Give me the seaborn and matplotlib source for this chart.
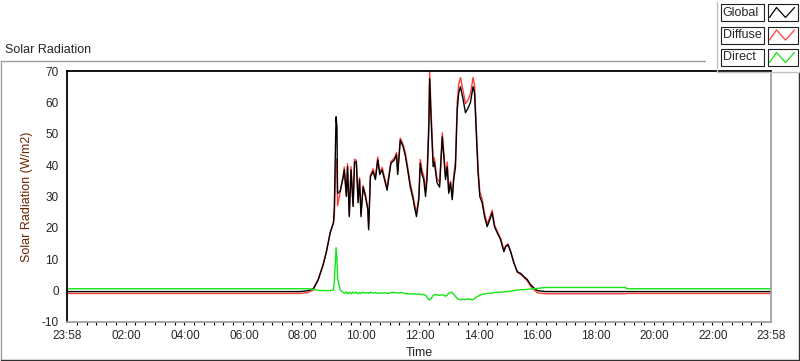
import numpy as np
import pandas as pd
import matplotlib
matplotlib.use("Agg")
import matplotlib.pyplot as plt
from matplotlib.lines import Line2D
from matplotlib.patches import Rectangle
from matplotlib.ticker import FixedLocator
import seaborn as sns

# ---------------------------------------------------------------
# data (hours after midnight, window runs 23:58 -> 23:58)
# ---------------------------------------------------------------
hours = [
    -0.03, 7.58, 7.92, 8.19, 8.36, 8.53, 8.70, 8.81, 8.94, 9.05,
    9.08, 9.11, 9.14, 9.17, 9.19, 9.28, 9.38, 9.42, 9.49, 9.53,
    9.59, 9.65, 9.72, 9.77, 9.83, 9.89, 9.94, 9.99, 10.06, 10.14,
    10.22, 10.25, 10.31, 10.40, 10.48, 10.56, 10.63, 10.71, 10.79, 10.88,
    10.93, 11.01, 11.13, 11.20, 11.24, 11.33, 11.42, 11.50, 11.58, 11.67,
    11.77, 11.81, 11.88, 11.96, 12.01, 12.07, 12.13, 12.19, 12.24, 12.30,
    12.33, 12.38, 12.45, 12.49, 12.58, 12.67, 12.76, 12.81, 12.87, 12.93,
    12.98, 13.04, 13.10, 13.15, 13.21, 13.27, 13.32, 13.38, 13.47, 13.55,
    13.63, 13.72, 13.81, 13.86, 13.93, 13.98, 14.04, 14.12, 14.20, 14.29,
    14.38, 14.46, 14.54, 14.63, 14.75, 14.86, 14.92, 15.00, 15.09, 15.20,
    15.32, 15.43, 15.54, 15.66, 15.77, 15.88, 16.00, 16.28, 19.01, 19.05,
    23.97,
]

global_rad = [
    -0.3, -0.3, -0.3, 0.0, 0.6, 3.5, 8.3, 12.4, 18.5, 21.7,
    26.4, 42.0, 55.4, 52.0, 31.0, 31.7, 36.0, 38.5, 30.0, 39.5,
    23.6, 38.5, 26.8, 41.0, 41.0, 28.0, 35.4, 23.6, 33.0, 30.0,
    25.8, 19.4, 36.3, 38.0, 35.4, 41.7, 37.0, 38.5, 35.4, 32.0,
    35.4, 40.6, 41.7, 43.3, 37.0, 48.0, 46.0, 43.0, 38.5, 33.0,
    29.0, 26.8, 23.6, 29.0, 40.6, 37.0, 35.4, 30.0, 35.4, 51.0,
    67.5, 54.5, 39.5, 41.0, 34.4, 33.0, 49.0, 43.0, 35.4, 39.5,
    31.0, 34.4, 29.0, 35.4, 39.5, 57.6, 63.0, 65.0, 61.0, 56.7,
    58.0, 60.0, 65.0, 63.0, 48.0, 37.6, 30.0, 28.0, 23.6, 20.4,
    22.6, 24.8, 20.4, 18.5, 16.2, 12.4, 14.0, 14.6, 12.4, 8.9,
    6.0, 5.5, 4.5, 3.5, 1.9, 0.9, 0.0, -0.3, -0.3, -0.3,
    -0.3,
]

diffuse_rad = [
    -0.9, -0.9, -0.9, -0.6, 0.2, 3.4, 8.3, 12.4, 18.5, 21.5,
    23.4, 34.0, 41.7, 42.0, 27.0, 31.5, 36.6, 39.4, 30.4, 40.5,
    24.1, 39.5, 27.2, 41.9, 41.5, 29.0, 36.0, 24.5, 33.5, 30.8,
    26.4, 20.3, 36.8, 38.8, 36.0, 42.6, 37.7, 39.3, 36.1, 32.8,
    36.3, 41.2, 42.3, 44.0, 37.8, 48.6, 46.7, 44.0, 39.5, 34.1,
    30.0, 27.8, 24.8, 30.0, 41.8, 38.3, 36.6, 31.5, 37.4, 53.9,
    70.0, 57.0, 41.0, 42.3, 35.7, 34.5, 50.3, 44.5, 37.2, 41.0,
    31.8, 34.9, 29.6, 36.6, 41.3, 60.1, 65.8, 67.9, 63.7, 59.6,
    60.6, 62.8, 67.9, 65.5, 50.0, 39.4, 31.5, 29.2, 24.6, 21.3,
    23.4, 25.6, 21.0, 19.0, 16.7, 12.8, 14.3, 14.9, 12.6, 8.9,
    5.8, 5.2, 4.2, 3.1, 1.4, 0.3, -0.7, -1.0, -1.0, -0.9,
    -0.9,
]

direct_rad = [
    0.6, 0.6, 0.6, 0.6, 0.4, 0.1, 0.0, 0.0, 0.0, 0.2,
    3.0, 8.0, 13.7, 10.0, 4.0, 0.2, -0.6, -0.9, -0.4, -1.0,
    -0.5, -1.0, -0.4, -0.9, -0.5, -1.0, -0.6, -0.9, -0.5, -0.8,
    -0.6, -0.9, -0.5, -0.8, -0.6, -0.9, -0.7, -0.8, -0.7, -0.8,
    -0.9, -0.6, -0.6, -0.7, -0.8, -0.6, -0.7, -1.0, -1.0, -1.1,
    -1.0, -1.0, -1.2, -1.0, -1.2, -1.3, -1.2, -1.5, -2.0, -2.9,
    -2.9, -2.5, -1.5, -1.3, -1.3, -1.5, -1.3, -1.5, -1.8, -1.5,
    -0.8, -0.5, -0.6, -1.2, -1.8, -2.5, -2.8, -2.9, -2.7, -2.9,
    -2.6, -2.8, -2.9, -2.5, -2.0, -1.8, -1.5, -1.2, -1.0, -0.9,
    -0.8, -0.8, -0.6, -0.5, -0.5, -0.4, -0.3, -0.3, -0.2, 0.0,
    0.2, 0.3, 0.3, 0.4, 0.5, 0.6, 0.7, 1.0, 1.0, 0.6,
    0.6,
]

series_names = ["Global", "Diffuse", "Direct"]
series_colors = {"Global": "#000000", "Diffuse": "#ff3b3b", "Direct": "#14e614"}

tick_hours = [-2 / 60, 2, 4, 6, 8, 10, 12, 14, 16, 18, 20, 22, 24 - 2 / 60]
tick_labels = ["23:58", "02:00", "04:00", "06:00", "08:00", "10:00", "12:00",
               "14:00", "16:00", "18:00", "20:00", "22:00", "23:58"]
y_ticks = [-10, 0, 10, 20, 30, 40, 50, 60, 70]

# ---------------------------------------------------------------
# build long table
# ---------------------------------------------------------------
df = pd.DataFrame({
    "Time": hours * 3,
    "Value": global_rad + diffuse_rad + direct_rad,
    "Series": ["Global"] * len(hours) + ["Diffuse"] * len(hours) + ["Direct"] * len(hours),
})

sns.set_theme(style="white")
plt.rcParams["font.family"] = ["Liberation Sans", "DejaVu Sans"]
plt.rcParams["font.size"] = 8
plt.rcParams["axes.unicode_minus"] = False

W, H = 800, 361


def fx(x):
    return x / W


def fy(y):
    return 1 - y / H


fig = plt.figure(figsize=(8, 3.61), dpi=100, facecolor="white")

# plot area in pixels: x 67..771, y 71..322
ax = fig.add_axes([fx(67), fy(322), fx(771) - fx(67), fy(71) - fy(322)])

sns.lineplot(data=df, x="Time", y="Value", hue="Series",
             hue_order=["Diffuse", "Global", "Direct"],
             palette=series_colors, estimator=None, sort=False,
             legend=False, linewidth=1.0, ax=ax)

ax.set_xlim(tick_hours[0], tick_hours[-1])
ax.set_ylim(-10, 70)
ax.set_xticks(tick_hours)
ax.set_xticklabels(tick_labels)
ax.set_yticks(y_ticks)
ax.xaxis.set_minor_locator(FixedLocator(np.arange(tick_hours[0], tick_hours[-1], 1 / 3)))

ax.tick_params(axis="both", which="major", direction="out", length=4, width=1,
               color="black", labelsize=8.5, pad=2)
ax.tick_params(axis="x", which="minor", direction="out", length=2.5, width=0.8,
               color="black", bottom=True)
ax.tick_params(axis="x", which="major", length=4, width=1.6)

for side in ["top", "left"]:
    ax.spines[side].set_color("black")
    ax.spines[side].set_linewidth(1.3)
for side in ["bottom", "right"]:
    ax.spines[side].set_color("#a0a0a0")
    ax.spines[side].set_linewidth(1.3)

ax.set_xlabel("Time", fontsize=9, labelpad=3)
ax.set_ylabel("Solar Radiation (W/m2)", fontsize=9, color="#6b2400", labelpad=6)

# ---------------------------------------------------------------
# outer panel frame and caption
# ---------------------------------------------------------------
fig.add_artist(Line2D([fx(0.5), fx(705)], [fy(61), fy(61)], color="#a0a0a0", lw=1))
fig.add_artist(Line2D([fx(0.5), fx(0.5)], [fy(61), fy(360)], color="#a0a0a0", lw=1))
fig.add_artist(Line2D([fx(0.5), fx(798.5)], [fy(359.5), fy(359.5)], color="#303030", lw=1))
fig.add_artist(Line2D([fx(798.5), fx(798.5)], [fy(72), fy(359.5)], color="#303030", lw=1))
fig.text(fx(5), fy(50), "Solar Radiation", fontsize=9, ha="left", va="center")

# ---------------------------------------------------------------
# LabVIEW-style plot legend
# ---------------------------------------------------------------
fig.add_artist(Line2D([fx(717), fx(717)], [fy(2), fy(72)], color="#c0c0c0", lw=1))
fig.add_artist(Line2D([fx(717), fx(800)], [fy(72), fy(72)], color="#c0c0c0", lw=1))

for i, name in enumerate(series_names):
    top = 4 + i * 22.5
    bot = top + 17
    fig.add_artist(Rectangle((fx(720.5), fy(bot)), fx(763.5) - fx(720.5), fy(top) - fy(bot),
                             facecolor="white", edgecolor="#202020", lw=0.8))
    fig.text(fx(722.5), fy((top + bot) / 2), name, fontsize=9, ha="left", va="center")
    fig.add_artist(Rectangle((fx(767.5), fy(bot)), fx(797.5) - fx(767.5), fy(top) - fy(bot),
                             facecolor="white", edgecolor="#202020", lw=0.8))
    zx = [769.5, 776.5, 785.5, 794.5]
    zy = [bot - 3.5, top + 3.5, bot - 3.5, top + 3.5]
    fig.add_artist(Line2D([fx(v) for v in zx], [fy(v) for v in zy],
                          color=series_colors[name], lw=0.9))

fig.savefig("out.png", dpi=100, facecolor="white")
